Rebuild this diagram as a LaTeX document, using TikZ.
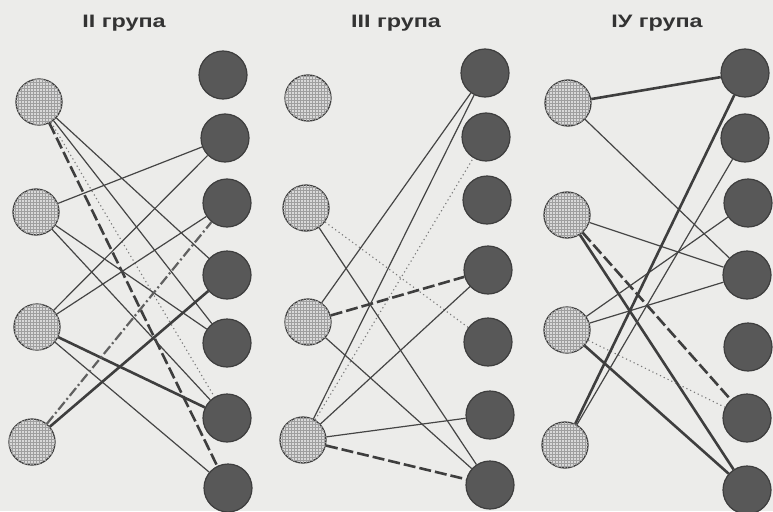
\documentclass[tikz,border=0pt]{standalone}
\usepackage{fontspec}
\setmainfont{Liberation Sans}
\usetikzlibrary{patterns}
\definecolor{bgc}{HTML}{ECECEA}
\definecolor{lfill}{HTML}{D9D9D9}
\definecolor{rfill}{HTML}{585858}
\definecolor{outl}{HTML}{3E3E3E}
\definecolor{linec}{HTML}{454545}
\definecolor{dotc}{HTML}{7A7A7A}
\definecolor{titlec}{HTML}{333333}
\tikzset{
  lnode/.style={circle, minimum size=46pt, inner sep=0pt, draw=outl, line width=1.3pt, fill=lfill,
    postaction={pattern=grid, pattern color=gray!75}},
  rnode/.style={circle, minimum size=48pt, inner sep=0pt, draw=outl, line width=1.2pt, fill=rfill},
  grouptitle/.style={font=\bfseries\fontsize{18}{20}\selectfont, text=titlec, xscale=1.3},
  thinl/.style={draw=linec, line width=1.2pt},
  thickl/.style={draw=linec!90!black, line width=2.6pt},
  dotl/.style={draw=dotc, line width=1.1pt, dash pattern=on 1.2pt off 3pt},
  thickdash/.style={draw=linec!90!black, line width=2.6pt, dash pattern=on 12pt off 4pt},
  dashdotl/.style={draw=gray!75!black, line width=2.2pt, dash pattern=on 10pt off 3pt on 2pt off 3pt}
}
\begin{document}
\begin{tikzpicture}[x=1pt,y=-1pt]
\useasboundingbox (0,0) rectangle (773,511);
\fill[bgc] (0,0) rectangle (773,511);
\clip (0,0) rectangle (773,511);

% titles
\node[grouptitle] (t2) at (124,23) {II група};
\node[grouptitle] (t3) at (396,23) {III група};
\node[grouptitle] (t4) at (657,23) {IУ група};

% group II
\node[lnode] (a1) at (39,102) {};
\node[lnode] (a2) at (36,212) {};
\node[lnode] (a3) at (37,327) {};
\node[lnode] (a4) at (32,442) {};
\node[rnode] (ar1) at (223,75) {};
\node[rnode] (ar2) at (225,138) {};
\node[rnode] (ar3) at (227,203) {};
\node[rnode] (ar4) at (227,275) {};
\node[rnode] (ar5) at (227,343) {};
\node[rnode] (ar6) at (227,418) {};
\node[rnode] (ar7) at (228,488) {};

\draw[thinl] (a1) -- (ar4);
\draw[thinl] (a1) -- (ar5);
\draw[dotl] (a1) -- (ar6);
\draw[thickdash] (a1) -- (ar7);
\draw[thinl] (a2) -- (ar2);
\draw[thinl] (a2) -- (ar5);
\draw[thinl] (a2) -- (ar6);
\draw[thinl] (a3) -- (ar2);
\draw[thinl] (a3) -- (ar3);
\draw[thickl] (a3) -- (ar6);
\draw[thinl] (a3) -- (ar7);
\draw[dashdotl] (a4) -- (ar3);
\draw[thickl] (a4) -- (ar4);

% group III
\node[lnode] (b1) at (308,98) {};
\node[lnode] (b2) at (306,208) {};
\node[lnode] (b3) at (308,322) {};
\node[lnode] (b4) at (303,440) {};
\node[rnode] (br1) at (485,73) {};
\node[rnode] (br2) at (486,137) {};
\node[rnode] (br3) at (487,200) {};
\node[rnode] (br4) at (488,270) {};
\node[rnode] (br5) at (488,342) {};
\node[rnode] (br6) at (490,415) {};
\node[rnode] (br7) at (490,485) {};

\draw[dotl] (b2) -- (br5);
\draw[thinl] (b2) -- (br7);
\draw[thinl] (b3) -- (br1);
\draw[thickdash] (b3) -- (br4);
\draw[thinl] (b3) -- (br7);
\draw[thinl] (b4) -- (br1);
\draw[dotl] (b4) -- (br2);
\draw[thinl] (b4) -- (br4);
\draw[thinl] (b4) -- (br6);
\draw[thickdash] (b4) -- (br7);

% group IV
\node[lnode] (c1) at (568,103) {};
\node[lnode] (c2) at (567,215) {};
\node[lnode] (c3) at (567,330) {};
\node[lnode] (c4) at (565,445) {};
\node[rnode] (cr1) at (745,73) {};
\node[rnode] (cr2) at (745,138) {};
\node[rnode] (cr3) at (748,203) {};
\node[rnode] (cr4) at (747,275) {};
\node[rnode] (cr5) at (748,347) {};
\node[rnode] (cr6) at (747,418) {};
\node[rnode] (cr7) at (747,490) {};

\draw[thickl] (c1) -- (cr1);
\draw[thinl] (c1) -- (cr4);
\draw[thinl] (c2) -- (cr4);
\draw[thickdash] (c2) -- (cr6);
\draw[thickl] (c2) -- (cr7);
\draw[thinl] (c3) -- (cr3);
\draw[thinl] (c3) -- (cr4);
\draw[dotl] (c3) -- (cr6);
\draw[thickl] (c3) -- (cr7);
\draw[thickl] (c4) -- (cr1);
\draw[thinl] (c4) -- (cr2);
\end{tikzpicture}
\end{document}
